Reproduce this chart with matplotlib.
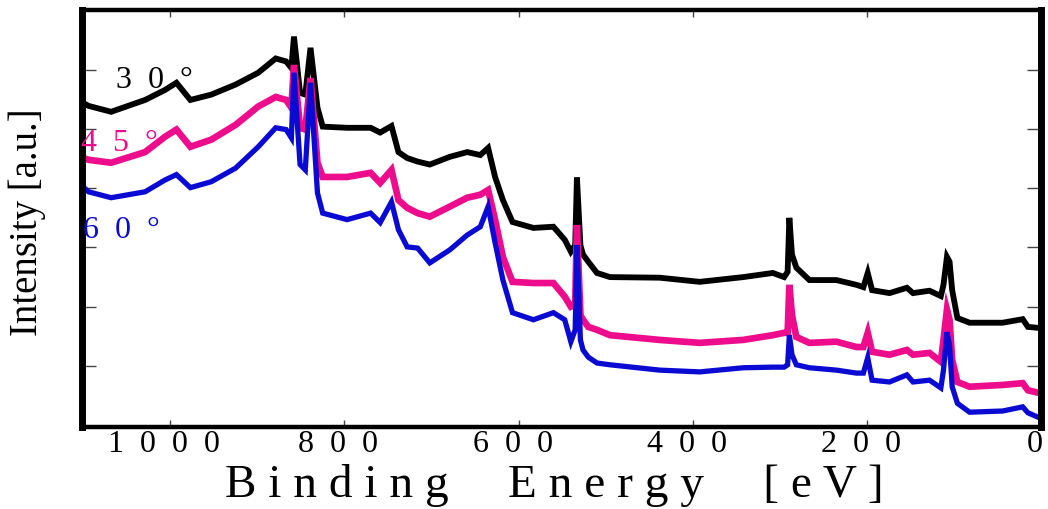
import numpy as np
import matplotlib.pyplot as plt
from matplotlib.transforms import ScaledTranslation

plt.rcParams['font.family'] = ['Liberation Serif', 'DejaVu Serif']

# binding energy grid (eV), shared by all three take-off angles
energy = [1100, 1094, 1068, 1029, 1006, 993, 977, 953, 925, 899,
          879, 867, 861, 858, 851, 845, 839, 831, 825, 797,
          770, 759, 746, 738, 728, 716, 702, 679, 659, 644,
          635, 627, 618, 607, 583, 560, 547, 540, 535, 533,
          529, 526, 520, 510, 495, 438, 392, 342, 308, 295,
          291, 289, 286, 281, 266, 235, 212, 204, 199, 194,
          174, 154, 147, 128, 115, 112, 108, 105, 102, 96,
          82, 44, 21, 15, 1]

# intensities (a.u., offset)
int_30 = [4.44, 4.39, 4.29, 4.49, 4.66, 4.78, 4.49, 4.58, 4.75, 4.95,
          5.19, 5.14, 5.03, 5.56, 4.61, 4.58, 5.37, 4.36, 4.04, 4.02,
          4.02, 3.94, 4.05, 3.61, 3.51, 3.45, 3.40, 3.53, 3.61, 3.56,
          3.68, 3.19, 2.80, 2.43, 2.33, 2.35, 2.13, 1.93, 2.04, 3.18,
          2.04, 1.88, 1.76, 1.57, 1.50, 1.49, 1.42, 1.50, 1.57, 1.50,
          1.59, 2.50, 1.88, 1.66, 1.45, 1.45, 1.37, 1.33, 1.57, 1.28,
          1.23, 1.32, 1.23, 1.27, 1.18, 1.37, 1.84, 1.76, 1.28, 0.81,
          0.73, 0.73, 0.79, 0.66, 0.64]

int_45 = [3.51, 3.48, 3.43, 3.61, 3.87, 3.99, 3.70, 3.82, 4.07, 4.38,
          4.54, 4.49, 4.36, 5.08, 4.02, 3.99, 4.86, 3.43, 3.19, 3.19,
          3.26, 3.09, 3.31, 2.80, 2.67, 2.58, 2.52, 2.69, 2.84, 2.89,
          2.97, 2.47, 1.84, 1.42, 1.40, 1.40, 1.17, 1.00, 1.03, 2.38,
          0.86, 0.78, 0.66, 0.61, 0.52, 0.44, 0.39, 0.44, 0.52, 0.56,
          0.56, 1.37, 0.86, 0.49, 0.39, 0.41, 0.32, 0.32, 0.56, 0.24,
          0.19, 0.27, 0.19, 0.22, 0.07, 0.44, 0.95, 0.78, 0.10, -0.27,
          -0.35, -0.32, -0.29, -0.41, -0.46]

int_60 = [3.02, 2.94, 2.84, 2.94, 3.14, 3.23, 3.01, 3.11, 3.34, 3.70,
          4.02, 3.99, 3.85, 4.95, 3.40, 3.31, 4.78, 2.92, 2.58, 2.47,
          2.58, 2.42, 2.77, 2.30, 2.01, 1.99, 1.74, 1.96, 2.21, 2.35,
          2.69, 2.08, 1.45, 0.90, 0.78, 0.90, 0.78, 0.41, 0.61, 2.04,
          0.44, 0.27, 0.15, 0.05, 0.02, -0.07, -0.10, -0.03, -0.02, -0.02,
          0.02, 0.52, 0.19, 0.02, -0.03, -0.07, -0.12, -0.12, 0.14, -0.24,
          -0.27, -0.15, -0.27, -0.24, -0.37, -0.07, 0.57, 0.35, -0.35, -0.63,
          -0.78, -0.76, -0.69, -0.79, -0.88]

x_ticks = [1000, 800, 600, 400, 200, 0]
x_tick_labels = ['  '.join(str(t)) for t in x_ticks]
y_ticks = [0, 1, 2, 3, 4, 5]

BLACK = '#000000'
PINK = '#EC0C8C'
BLUE = '#0A0AD2'

fig = plt.figure(figsize=(10.48, 5.09), dpi=100)
ax = fig.add_axes([0.0778, 0.1611, 0.9155, 0.8183])

ax.plot(energy, int_30, color=BLACK, lw=4.2, solid_joinstyle='miter')
ax.plot(energy, int_45, color=PINK, lw=4.8, solid_joinstyle='miter')
ax.plot(energy, int_60, color=BLUE, lw=3.8, solid_joinstyle='miter')

ax.set_xlim(1102, 0)
ax.set_ylim(-1.03, 6.0)

ax.set_xticks(x_ticks)
ax.set_xticklabels(x_tick_labels)
ax.set_yticks(y_ticks)
ax.set_yticklabels([])
ax.tick_params(axis='x', direction='in', top=True, bottom=True, length=5,
               width=1, color='#444444', labelsize=23, pad=2)
ax.tick_params(axis='y', direction='in', left=True, right=True, length=10,
               width=1, color='#444444')
shift = ScaledTranslation(-6 / 100, 0, fig.dpi_scale_trans)
for lab in ax.get_xticklabels():
    lab.set_transform(lab.get_transform() + shift)

for side in ['left', 'right']:
    ax.spines[side].set_linewidth(5)
for side in ['top', 'bottom']:
    ax.spines[side].set_linewidth(3.2)

# angle labels, placed in pixel-ish figure coordinates
W, H = 1048, 509
fig.text(116 / W, 1 - 88 / H, '3  0  \u00b0', color=BLACK, fontsize=23,
         va='baseline', ha='left')
fig.text(81 / W, 1 - 151 / H, '4  5  \u00b0', color=PINK, fontsize=23,
         va='baseline', ha='left', zorder=5)
fig.text(83 / W, 1 - 238 / H, '6  0  \u00b0', color=BLUE, fontsize=23,
         va='baseline', ha='left', zorder=5)

word_gap = ' ' * 5
xlabel = word_gap.join(' '.join(w) for w in ['Binding', 'Energy', '[eV]'])
fig.text(554 / W, 1 - 497 / H, xlabel, fontsize=34, va='baseline', ha='center')
fig.text(27 / W, 1 - 222 / H, 'Intensity [a.u.]', fontsize=28,
         rotation=90, va='center', ha='center')

fig.savefig('out.png', dpi=100)
